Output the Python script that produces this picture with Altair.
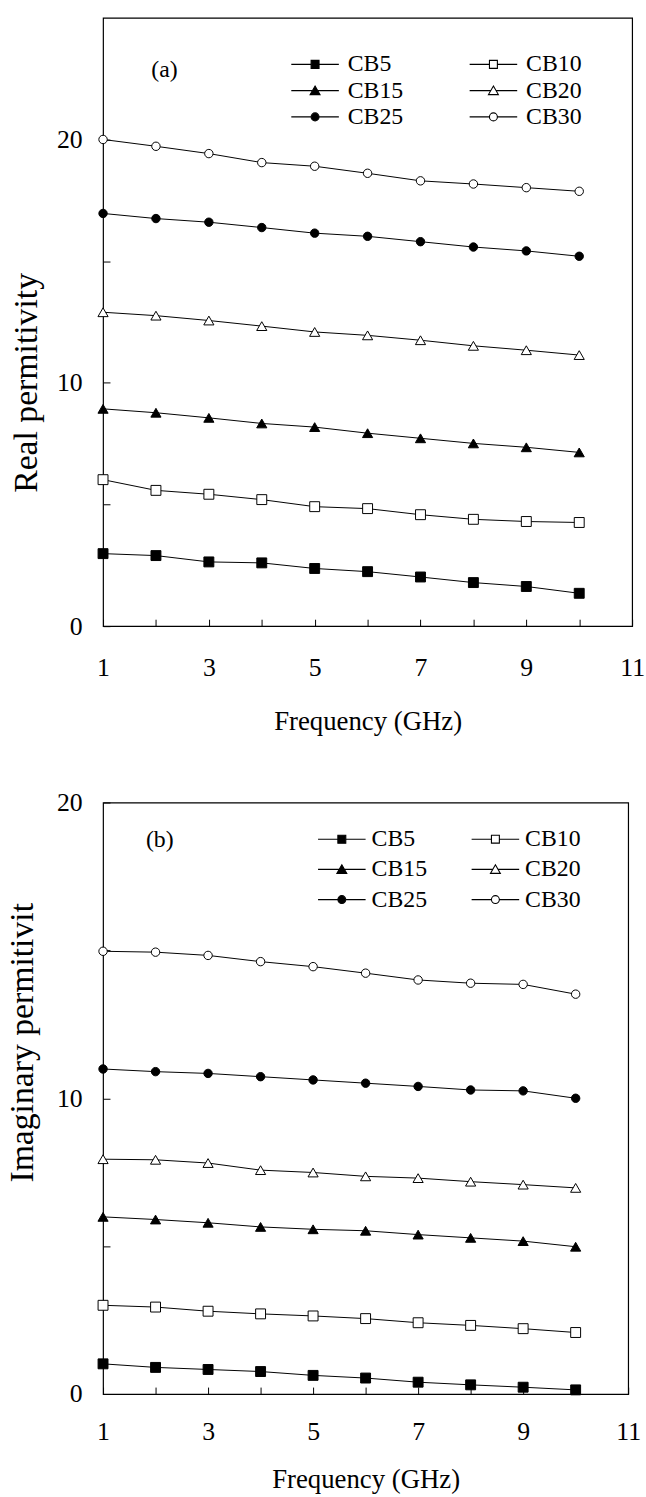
import altair as alt
import pandas as pd

# ---------------- data ----------------
freq = [1, 2, 3, 4, 5, 6, 7, 8, 9, 10]
series = ["CB5", "CB10", "CB15", "CB20", "CB25", "CB30"]

real_cb5 = [2.98, 2.90, 2.64, 2.60, 2.37, 2.24, 2.02, 1.79, 1.63, 1.35]
real_cb10 = [6.02, 5.58, 5.42, 5.20, 4.91, 4.83, 4.58, 4.39, 4.30, 4.26]
real_cb15 = [8.93, 8.77, 8.56, 8.33, 8.18, 7.93, 7.72, 7.51, 7.35, 7.14]
real_cb20 = [12.90, 12.76, 12.56, 12.33, 12.09, 11.95, 11.75, 11.52, 11.34, 11.14]
real_cb25 = [16.96, 16.75, 16.60, 16.38, 16.15, 16.02, 15.80, 15.58, 15.42, 15.20]
real_cb30 = [20.00, 19.72, 19.42, 19.05, 18.90, 18.61, 18.30, 18.17, 18.02, 17.87]

imag_cb5 = [1.02, 0.90, 0.83, 0.76, 0.63, 0.54, 0.40, 0.31, 0.23, 0.14]
imag_cb10 = [3.00, 2.94, 2.80, 2.71, 2.64, 2.55, 2.41, 2.32, 2.21, 2.08]
imag_cb15 = [5.99, 5.90, 5.79, 5.65, 5.57, 5.52, 5.39, 5.28, 5.17, 4.98]
imag_cb20 = [7.94, 7.92, 7.81, 7.57, 7.49, 7.36, 7.30, 7.18, 7.08, 6.97]
imag_cb25 = [10.99, 10.90, 10.84, 10.73, 10.62, 10.51, 10.40, 10.28, 10.25, 10.00]
imag_cb30 = [14.97, 14.94, 14.83, 14.62, 14.45, 14.23, 14.00, 13.89, 13.85, 13.52]

x_ticks = [1, 2, 3, 4, 5, 6, 7, 8, 9, 10, 11]
real_y_ticks = [0, 5, 10, 15, 20]
imag_y_ticks = [0, 5, 10, 15, 20]

# ---------------- styles ----------------
FONT = "Liberation Serif"
shape_of = {"CB5": "square", "CB10": "square", "CB15": "triangle-up",
            "CB20": "triangle-up", "CB25": "circle", "CB30": "circle"}
fill_of = {"CB5": "black", "CB10": "white", "CB15": "black",
           "CB20": "white", "CB25": "black", "CB30": "white"}
size_of = {"square": 100, "triangle-up": 105, "circle": 72}

SQ = "M-6,0H-1M1,0H6M-1,-1H1V1H-1Z"
TRI = "M-6,0H-0.6M0.6,0H6M0,-1.15L1.25,1H-1.25Z"
CIR = "M-6,0H-1M1,0H6M-1,0A1 1 0 1 0 1,0A1 1 0 1 0 -1,0Z"
legend_paths = [SQ, SQ, TRI, TRI, CIR, CIR]
legend_fills = [fill_of[s] for s in series]


def make_df(cols):
    rows = []
    for name, vals in zip(series, cols):
        for f, v in zip(freq, vals):
            rows.append({"freq": f, "value": v, "series": name,
                         "shape": shape_of[name], "fill": fill_of[name],
                         "msize": size_of[shape_of[name]]})
    return pd.DataFrame(rows)


real_df = make_df([real_cb5, real_cb10, real_cb15, real_cb20, real_cb25, real_cb30])
imag_df = make_df([imag_cb5, imag_cb10, imag_cb15, imag_cb20, imag_cb25, imag_cb30])


def panel(df, ymax, yticks, ytitle, w, h, letter, letter_x, letter_y,
          ytitle_x, ytitle_y, xlabel_pad, xtitle_y, lx, ly, colpad, rowpad, loff):
    xenc = alt.X("freq:Q", scale=alt.Scale(domain=[1, 11], nice=False, zero=False),
                 axis=alt.Axis(values=x_ticks,
                               labelExpr="datum.value % 2 == 1 ? datum.label : ''",
                               tickSize=7, offset=-7, domain=False, grid=False,
                               tickColor="black", tickWidth=1,
                               labelPadding=xlabel_pad, labelFont=FONT, labelFontSize=26,
                               labelColor="black", labelFlush=False,
                               title="Frequency (GHz)", titleFont=FONT, titleFontSize=27,
                               titleFontWeight="normal", titleColor="black",
                               titleY=xtitle_y, titleBaseline="middle"))
    yenc = alt.Y("value:Q", scale=alt.Scale(domain=[0, ymax], nice=False),
                 axis=alt.Axis(values=yticks,
                               labelExpr="datum.value % 10 == 0 ? datum.label : ''",
                               tickSize=7, offset=-7, domain=False, grid=False,
                               tickColor="black", tickWidth=1,
                               labelPadding=21, labelFont=FONT, labelFontSize=26,
                               labelColor="black", labelFlush=False,
                               title=ytitle, titleFont=FONT, titleFontSize=34,
                               titleFontWeight="normal", titleColor="black",
                               titleX=ytitle_x, titleY=ytitle_y,
                               titleBaseline="middle", titleAlign="center", titleAngle=270))
    base = alt.Chart(df).encode(x=xenc, y=yenc)
    lines = base.mark_line(color="black", strokeWidth=1).encode(
        detail="series:N", order="freq:Q")
    points = base.mark_point(filled=True, opacity=1, stroke="black", strokeWidth=1).encode(
        shape=alt.Shape("shape:N", scale=None),
        fill=alt.Fill("fill:N", scale=None),
        size=alt.Size("msize:Q", scale=None),
        detail="series:N")
    leg = alt.Legend(title=None, orient="none", legendX=lx, legendY=ly, columns=2,
                     direction="horizontal",
                     columnPadding=colpad, rowPadding=rowpad, symbolSize=64,
                     symbolStrokeColor="black", symbolStrokeWidth=1.1,
                     labelFont=FONT, labelFontSize=24, labelColor="black",
                     labelOffset=loff, padding=0)
    legend_layer = alt.Chart(df).transform_filter("false").mark_point(
        filled=True, opacity=1, stroke="black", strokeWidth=1.1).encode(
        x=alt.X("freq:Q"), y=alt.Y("value:Q"),
        shape=alt.Shape("series:N", scale=alt.Scale(domain=series, range=legend_paths),
                        legend=leg),
        fill=alt.Fill("series:N", scale=alt.Scale(domain=series, range=legend_fills),
                      legend=leg))
    label = alt.Chart(pd.DataFrame({"x": [letter_x], "y": [letter_y], "t": [letter]})).mark_text(
        font=FONT, fontSize=24, color="black").encode(
        x=alt.X("x:Q"), y=alt.Y("y:Q"), text="t:N")
    return alt.layer(lines, points, legend_layer, label).properties(width=w, height=h)


top = panel(real_df, 25, real_y_ticks, "Real permitivity", 534, 614,
            "(a)", 2.16, 22.85, -84, 368, 29, 103, 202, 35, 63, 2.5, 21)
bottom = panel(imag_df, 20, imag_y_ticks, "Imaginary permitivit", 530, 597,
               "(b)", 2.08, 18.73, -88, 242, 25, 93, 229, 25, 41, 6.5, 18)

chart = alt.concat(top, bottom, columns=1, spacing=54, align="none").resolve_scale(
    shape="independent", fill="independent"
).resolve_legend(
    shape="independent", fill="independent"
).properties(
    padding={"left": 5, "top": 10, "right": 0, "bottom": 0},
    background="white",
).configure_view(stroke="black", strokeWidth=1.2)

chart.save("out.html", embed_options={"renderer": "svg", "actions": False})
